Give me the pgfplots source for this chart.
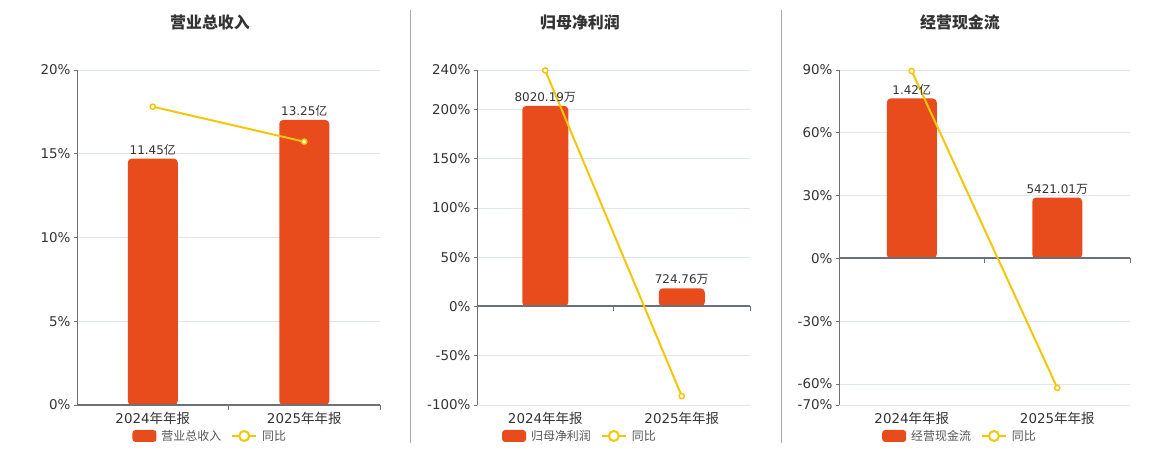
\documentclass[border=0pt]{standalone}
\usepackage{fontspec}
\setmainfont{DejaVu Sans}
\newfontfamily\cjk{Noto Sans CJK SC}
\usepackage{pgfplots}
\pgfplotsset{compat=1.18}
\definecolor{barc}{HTML}{E84B1C}
\definecolor{linec}{HTML}{F3C60A}
\definecolor{axisc}{HTML}{6E7079}
\definecolor{gridc}{HTML}{E0E6F1}
\definecolor{txt}{HTML}{333333}
\definecolor{legtxt}{HTML}{555555}
\definecolor{sepc}{HTML}{AAAAAA}
\protected\def\yi{{\cjk 亿}}
\protected\def\wan{{\cjk 万}}
\tikzset{
  zeroline/.style={axisc, line width=2bp},
  btick/.style={axisc, line width=0.8bp},
}
\pgfplotsset{
  panel/.style={
    scale only axis, clip=false,
    height=335bp,
    xmin=-0.5, xmax=1.5,
    xtick={0,1}, xticklabels={2024{\cjk 年年报},2025{\cjk 年年报}},
    axis lines*=left,
    x axis line style={draw=none},
    y axis line style={draw=axisc, line width=0.8bp},
    xtick style={draw=none},
    ytick style={draw=axisc, line width=0.8bp},
    tick align=outside, major tick length=3bp,
    ymajorgrids, grid style={draw=gridc, line width=0.8bp},
    ticklabel style={font=\fontsize{13.5}{16}\selectfont, text=txt},
    xticklabel style={yshift=-1bp},
    legend columns=2,
    legend style={draw=none, fill=none, font=\fontsize{12}{14}\selectfont, text=legtxt, anchor=center,
      /tikz/every odd column/.append style={column sep=3bp},
      /tikz/every even column/.append style={column sep=8bp}},
  },
  barp/.style={ybar, fill=barc, draw=none, rounded corners=4bp,
    nodes near coords, point meta=explicit symbolic,
    every node near coord/.append style={font=\fontsize{12}{14}\selectfont, text=txt, rounded corners=0pt},
    legend image code/.code={\fill[barc, rounded corners=3bp] (0bp,-6bp) rectangle (24bp,6bp);}},
  linep/.style={color=linec, line width=2bp, mark=*, mark size=2.6bp,
    mark options={fill=white, draw=linec, line width=1.5bp},
    legend image code/.code={\draw[linec, line width=2bp] (0bp,0bp) -- (24bp,0bp); \draw[linec, fill=white, line width=2bp] (12bp,0bp) circle (5bp);}},
}
\begin{document}
\begin{tikzpicture}
\path[use as bounding box] (0,0) rectangle (1160bp,450bp);
% separators
\draw[sepc, line width=1bp] (410bp,7bp) -- (410bp,440bp);
\draw[sepc, line width=1bp] (781bp,7bp) -- (781bp,440bp);
% titles
\node[font=\cjk\bfseries\fontsize{16}{18}\selectfont, text=txt] at (210bp,428bp) {营业总收入};
\node[font=\cjk\bfseries\fontsize{16}{18}\selectfont, text=txt] at (580bp,428bp) {归母净利润};
\node[font=\cjk\bfseries\fontsize{16}{18}\selectfont, text=txt] at (960bp,428bp) {经营现金流};

% panel 1
\begin{axis}[panel, width=303bp, at={(77bp,45bp)}, anchor=south west,
  ymin=0, ymax=20, ytick={0,5,10,15,20}, yticklabels={0\%,5\%,10\%,15\%,20\%},
  legend style={at={(axis description cs:0.44,-0.0925)}}]
\addplot[barp, bar width=50bp] coordinates {(0,14.71) [11.45\yi] (1,17.02) [13.25\yi]};
\draw[zeroline] (axis cs:-0.5,0) -- (axis cs:1.5,0);
\draw[btick] (axis cs:0.5,0) -- ([yshift=-5bp]axis cs:0.5,0);
\draw[btick] (axis cs:1.5,0) -- ([yshift=-5bp]axis cs:1.5,0);
\addplot[linep] coordinates {(0,17.81) (1,15.72)};
\legend{{\cjk 营业总收入},{\cjk 同比}}
\end{axis}

% panel 2
\begin{axis}[panel, width=273bp, at={(477bp,45bp)}, anchor=south west,
  ymin=-100, ymax=240, ytick={-100,-50,0,50,100,150,200,240},
  yticklabels={-100\%,-50\%,0\%,50\%,100\%,150\%,200\%,240\%},
  legend style={at={(axis description cs:0.377,-0.0925)}}]
\addplot[barp, bar width=46bp] coordinates {(0,203.6) [8020.19\wan] (1,18.4) [724.76\wan]};
\draw[zeroline] (axis cs:-0.5,0) -- (axis cs:1.5,0);
\draw[btick] (axis cs:0.5,0) -- ([yshift=-5bp]axis cs:0.5,0);
\draw[btick] (axis cs:1.5,0) -- ([yshift=-5bp]axis cs:1.5,0);
\addplot[linep] coordinates {(0,239.6) (1,-90.96)};
\legend{{\cjk 归母净利润},{\cjk 同比}}
\end{axis}

% panel 3
\begin{axis}[panel, width=291bp, at={(839bp,45bp)}, anchor=south west,
  ymin=-70, ymax=90, ytick={-70,-60,-30,0,30,60,90},
  yticklabels={-70\%,-60\%,-30\%,0\%,30\%,60\%,90\%},
  legend style={at={(axis description cs:0.416,-0.0925)}}]
\addplot[barp, bar width=50bp] coordinates {(0,76.4) [1.42\yi] (1,29.1) [5421.01\wan]};
\draw[zeroline] (axis cs:-0.5,0) -- (axis cs:1.5,0);
\draw[btick] (axis cs:0.5,0) -- ([yshift=-5bp]axis cs:0.5,0);
\draw[btick] (axis cs:1.5,0) -- ([yshift=-5bp]axis cs:1.5,0);
\addplot[linep] coordinates {(0,89.5) (1,-61.8)};
\legend{{\cjk 经营现金流},{\cjk 同比}}
\end{axis}
\end{tikzpicture}
\end{document}
